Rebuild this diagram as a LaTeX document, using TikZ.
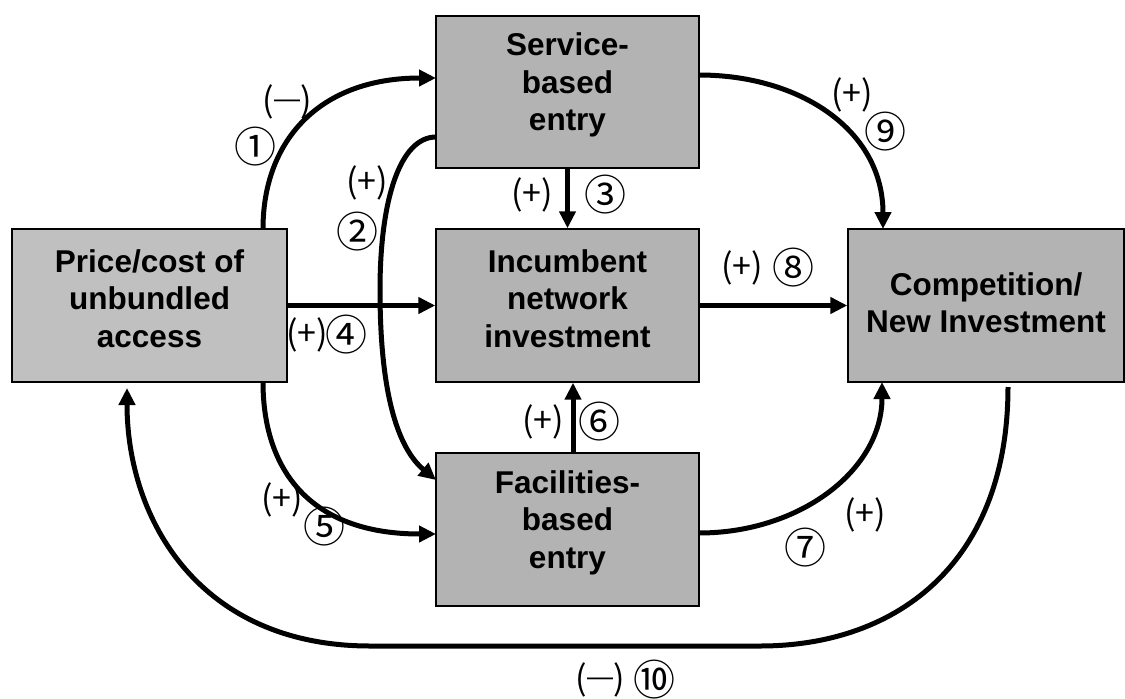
\documentclass[tikz,border=0pt]{standalone}
\usepackage{fontspec}
\setmainfont{Liberation Sans}
\newfontfamily\markfont{Noto Sans CJK JP}
\usetikzlibrary{positioning,arrows.meta}

\definecolor{boxgray}{HTML}{B3B3B3}
\definecolor{pricegray}{HTML}{C0C0C0}

\newcommand{\negsign}{(\raisebox{5pt}{\rmfamily\fontsize{26}{26}\selectfont —})}

\tikzset{
  box/.style={draw=black, line width=1.4pt, fill=boxgray, inner sep=0pt},
  boxtext/.style={align=center, font=\fontsize{31.5}{37.5}\selectfont\bfseries},
  link/.style={line width=5pt, -{Triangle[length=17pt,width=16pt]}},
  sign/.style={font=\fontsize{34}{36}\selectfont\markfont, inner sep=0pt},
  num/.style={font=\fontsize{42}{44}\selectfont\markfont, inner sep=0pt}
}

\begin{document}
\begin{tikzpicture}[x=1pt,y=-1pt]
\useasboundingbox (0,0) rectangle (1125,699);

% boxes
\node[box, fill=pricegray, minimum width=275pt, minimum height=153pt](price) at (149.5,305.5){};
\node[box, minimum width=263pt, minimum height=152pt](serv) at (567.5,92){};
\node[box, minimum width=263pt, minimum height=153pt](inc) at (567.5,305.5){};
\node[box, minimum width=263pt, minimum height=153pt](fac) at (567.5,529.5){};
\node[box, minimum width=276pt, minimum height=153pt](comp) at (986,305.5){};

\node[boxtext] at ([yshift=7pt]price.center){Price/cost of\\unbundled\\access};
\node[boxtext] at ([yshift=7pt]serv.center){Service-\\based\\entry};
\node[boxtext] at ([yshift=7pt]inc.center){Incumbent\\network\\investment};
\node[boxtext] at ([yshift=7pt]fac.center){Facilities-\\based\\entry};
\node[boxtext] at ([yshift=3pt]comp.center){Competition/\\New Investment};

% free ends of the connectors
\coordinate (p1) at (263,229);
\coordinate (s1) at (436,78);
\coordinate (s2) at (436,137);
\coordinate (f2) at (436,480);
\coordinate (p5) at (263,382);
\coordinate (f5) at (436,534);
\coordinate (f7) at (699,533);
\coordinate (c7) at (882,382);
\coordinate (s9) at (699,75);
\coordinate (c9) at (883,229);
\coordinate (c10) at (1008,387);
\coordinate (p10) at (127,388);

% connectors
\draw[link] (p1) .. controls (263,140) and (320,78) .. (s1);
\draw[link] (s2) .. controls (400,137) and (380,200) .. (380,290)
                 .. controls (380,400) and (400,450) .. (f2);
\draw[link] (serv.south) -- (inc.north);
\draw[link] (price.east) -- (inc.west);
\draw[link] (p5) .. controls (263,470) and (310,534) .. (f5);
\draw[link] ([xshift=5.5pt]fac.north) -- ([xshift=5.5pt]inc.south);
\draw[link] (f7) .. controls (800,533) and (882,470) .. (c7);
\draw[link] (inc.east) -- (comp.west);
\draw[link] (s9) .. controls (800,75) and (883,130) .. (c9);
\draw[link] (c10) .. controls (1008,560) and (900,646) .. (760,646) -- (370,646)
                  .. controls (200,646) and (127,520) .. (p10);

% signs and numbers
\node[sign](m1) at (287,102){\negsign};
\node[num](n1) at (255,147){①};
\node[sign](m2) at (367,183){(+)};
\node[num](n2) at (357,232){②};
\node[sign](m3) at (532,195){(+)};
\node[num](n3) at (605,195){③};
\node[sign](m4) at (307,335){(+)};
\node[num](n4) at (346,335){④};
\node[sign](m5) at (282,500){(+)};
\node[num](n5) at (324,527){⑤};
\node[sign](m6) at (543,422){(+)};
\node[num](n6) at (599,422){⑥};
\node[num](n7) at (805,548){⑦};
\node[sign](m7) at (865,515){(+)};
\node[sign](m8) at (742,268){(+)};
\node[num](n8) at (793,268){⑧};
\node[sign](m9) at (852,95){(+)};
\node[num](n9) at (885,132){⑨};
\node[sign](m10) at (600,680){\negsign};
\node[num](n10) at (654,680){⑩};
\end{tikzpicture}
\end{document}
